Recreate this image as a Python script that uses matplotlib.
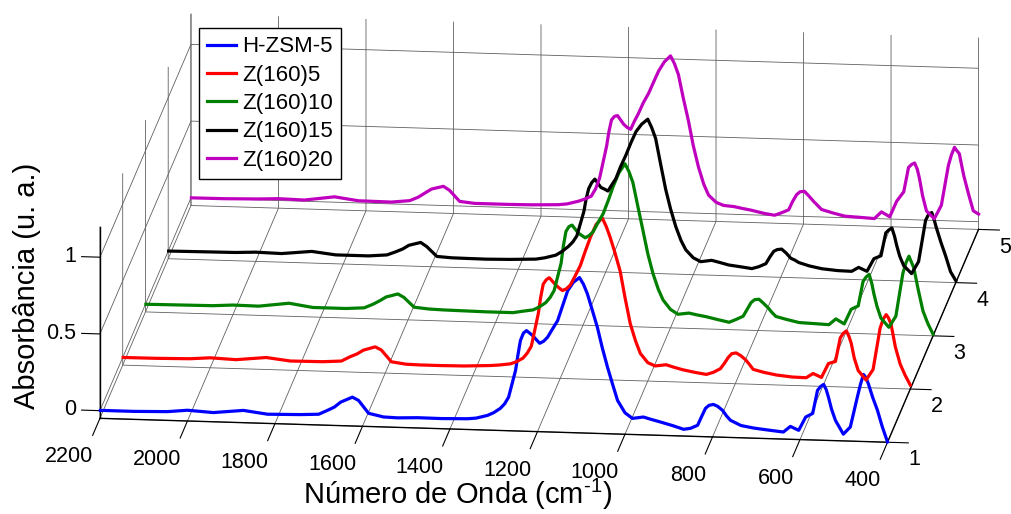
import matplotlib
matplotlib.use('Agg')
import matplotlib.pyplot as plt

plt.rcParams['font.family'] = ['Liberation Sans', 'DejaVu Sans']
plt.rcParams['mathtext.fontset'] = 'custom'
plt.rcParams['mathtext.rm'] = 'Liberation Sans'
plt.rcParams['mathtext.default'] = 'regular'

# ------ data ------
wavenumber = [2199, 2123, 2046, 2000, 1941, 1872, 1817, 1742, 1700, 1680, 1664, 1650, 1623, 1609, 1586, 1552,
              1520, 1474, 1420, 1360, 1340, 1314, 1300, 1285, 1275, 1266, 1250, 1245, 1239, 1232, 1225, 1211,
              1203, 1195, 1186, 1177, 1166, 1154, 1142, 1131, 1118, 1104, 1095, 1086, 1075, 1063, 1052, 1040,
              1028, 1017, 1000, 983, 958, 940, 919, 890, 866, 850, 834, 825, 816, 808, 798, 788,
              777, 768, 759, 735, 706, 670, 638, 622, 603, 587, 571, 560, 553, 546, 540, 535,
              528, 519, 501, 485, 469, 462, 455, 450, 444, 434, 423, 412, 400]
hzsm5 = [.002, .002, .007, .02, .01, .03, .01, .014, .02, .047, .07, .103, .138, .118, .036, .015,
         .012, .017, .016, .02, .026, .046, .065, .094, .125, .169, .346, .44, .54, .59, .606, .575,
         .55, .526, .54, .567, .62, .677, .78, .874, .93, .962, .92, .858, .755, .64, .51, .384,
         .27, .169, .09, .055, .066, .052, .037, .015, -.006, .002, .023, .08, .135, .155, .162, .15,
         .125, .09, .062, .03, .016, .005, -.004, .034, .01, .098, .123, .274, .30, .314, .28, .232,
         .155, .082, -.006, .042, .238, .32, .387, .37, .329, .24, .156, .05, -.048]
z160_5 = [0, .001, .005, .015, .008, .028, .01, .012, .02, .05, .07, .095, .119, .10, .025, .012,
          .01, .01, .012, .02, .025, .035, .05, .075, .11, .155, .37, .47, .56, .59, .604, .56,
          .54, .523, .535, .56, .62, .69, .79, .876, .96, 1.004, .95, .88, .78, .66, .49, .321,
          .21, .129, .07, .05, .06, .045, .03, .015, .005, .02, .045, .08, .12, .145, .151, .135,
          .11, .08, .047, .03, .015, .005, .003, .032, .008, .1, .115, .27, .30, .316, .28, .237,
          .14, .06, 0, .07, .34, .40, .43, .41, .37, .22, .11, .04, -.024]
z160_10 = [0, .002, .004, .012, .01, .035, .012, .012, .02, .045, .07, .095, .117, .095, .034, .025,
           .022, .02, .018, .018, .028, .04, .06, .09, .125, .17, .35, .46, .557, .59, .6, .55,
           .535, .52, .535, .56, .62, .68, .77, .86, .95, 1.01, .96, .89, .74, .58, .43, .30,
           .20, .13, .07, .04, .05, .04, .03, .012, -.002, .018, .04, .085, .13, .15, .154, .13,
           .10, .07, .045, .028, .01, .006, .002, .041, .01, .107, .13, .29, .32, .338, .28, .21,
           .13, .055, -.003, .07, .35, .42, .464, .43, .39, .25, .11, .03, -.039]
z160_15 = [0, .002, .004, .01, .006, .026, .008, .008, .018, .04, .06, .085, .106, .08, .018, .012,
           .011, .01, .013, .02, .03, .05, .075, .11, .14, .18, .34, .42, .49, .53, .553, .50,
           .49, .478, .52, .56, .64, .715, .80, .87, .92, .954, .90, .83, .67, .50, .375, .26,
           .17, .11, .06, .036, .047, .035, .02, .01, .001, .015, .036, .08, .118, .13, .134, .11,
           .076, .065, .05, .03, .014, .005, .003, .03, .006, .09, .11, .26, .28, .293, .24, .18,
           .11, .05, 0, .08, .35, .39, .402, .36, .30, .21, .12, .02, -.037]
z160_20 = [0, .001, .006, .012, .008, .035, .014, .012, .025, .05, .08, .105, .125, .10, .03, .02,
           .02, .02, .022, .028, .035, .055, .07, .09, .14, .21, .42, .51, .59, .615, .62, .565,
           .545, .534, .59, .64, .71, .772, .85, .92, .98, 1.02, .97, .90, .75, .60, .44, .30,
           .19, .12, .075, .056, .05, .04, .03, .012, .002, .02, .04, .095, .14, .16, .164, .135,
           .10, .075, .049, .03, .01, .005, 0, .045, .015, .118, .18, .34, .36, .37, .33, .27,
           .16, .06, .011, .10, .36, .43, .48, .46, .44, .30, .18, .07, .05]

names = ['H-ZSM-5', 'Z(160)5', 'Z(160)10', 'Z(160)15', 'Z(160)20']
series = [hzsm5, z160_5, z160_10, z160_15, z160_20]
colors = ['#0000ff', '#ff0000', '#007f00', '#000000', '#bf00bf']
sample_pos = [1, 2, 3, 4, 5]
x_ticks = [2200, 2000, 1800, 1600, 1400, 1200, 1000, 800, 600, 400]
z_ticks = [0, 0.5, 1]
z_labels = ['0', '0.5', '1']

# ------ figure ------
W, H = 1011, 514
fig = plt.figure(figsize=(W / 100, H / 100), dpi=100)
side = 1113
ax = fig.add_axes([-32.3 / W, -285.5 / H, side / W, side / H], projection='3d', proj_type='ortho')
ax.patch.set_alpha(0)
ax.view_init(elev=15.45, azim=-83.5)
ax.set_box_aspect((792.6, 804, 199))

lines = []
for pos, vals, col, name in zip(sample_pos, series, colors, names):
    ln, = ax.plot(wavenumber, [pos] * len(wavenumber), vals, color=col, lw=2.3, label=name)
    lines.append(ln)

ax.set_xlim(2200, 400, view_margin=0)
ax.set_ylim(1, 5, view_margin=0)
ax.set_zlim(-0.05, 1.2, view_margin=0)
ax.set_xticks(x_ticks)
ax.set_yticks(sample_pos)
ax.set_zticks(z_ticks)
ax.set_zticklabels([])
ax.set_xticklabels([str(t) for t in x_ticks], ha='right', va='top')
ax.set_yticklabels([str(t) for t in sample_pos], ha='center', va='top')
ax.tick_params(labelsize=15.5)
ax.tick_params(axis='x', pad=21)
ax.tick_params(axis='y', pad=6)
ax.zaxis.set_ticks_position('lower')
# z ticks should point along x, not along y
ax.zaxis._get_tickdir = lambda pos: 0

# z labels go as text, the tick pad would also push them down the y direction
for t, lab in zip(z_ticks, z_labels):
    ax.text(2254, 1, t, lab, fontsize=15.5, ha='right', va='center')

for axis, inw, out in zip([ax.xaxis, ax.yaxis, ax.zaxis], [1.0, 0.33, 0], [0, 0, 0.29]):
    axis.set_pane_color((1, 1, 1, 0))
    axis.pane.set_edgecolor('none')
    axis._axinfo['tick'].update(inward_factor=inw, outward_factor=out)
    axis._axinfo['grid'].update(color='#606060', linewidth=0.6)
    axis._axinfo['axisline'].update(color='black', linewidth=1.0)
    axis.line.set_linewidth(1.0)

fig.legend(lines, names, loc='upper left', bbox_to_anchor=(199 / W, 1 - 28 / H), fontsize=16,
           frameon=True, fancybox=False, framealpha=1, edgecolor='black', borderaxespad=0,
           handlelength=1.3, labelspacing=0.33, handletextpad=0.25, borderpad=0.38)

fig.text(458 / W, 1 - 494 / H, 'Número de Onda (cm$^{\\text{-}1}$)', fontsize=21, ha='center', va='center')
fig.text(27 / W, 1 - 285.5 / H, 'Absorbância (u. a.)', fontsize=21, rotation=90, ha='center', va='center')

fig.savefig('out.png', dpi=100)
